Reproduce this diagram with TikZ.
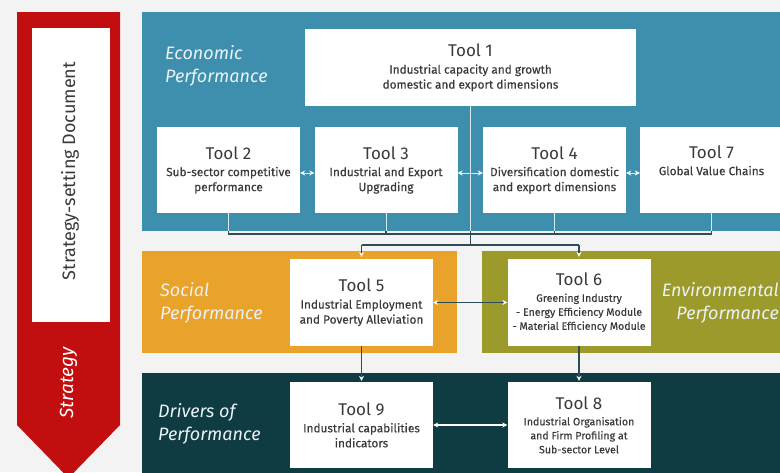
\documentclass[tikz,border=0pt]{standalone}
\usepackage{fontspec}
\setmainfont{Fira Sans}
\newfontfamily\subfont[FakeBold=0.3]{Fira Sans}
\usepackage{tikz}
\usetikzlibrary{arrows.meta, positioning}
\tikzset{>=stealth}
\definecolor{bggray}{HTML}{F3F3F3}
\definecolor{stratred}{HTML}{C20E0E}
\definecolor{econblue}{HTML}{3E8FAE}
\definecolor{socorange}{HTML}{E9A22A}
\definecolor{envolive}{HTML}{9B9A2B}
\definecolor{drvteal}{HTML}{0F3B42}
\definecolor{linkdark}{HTML}{2F4B55}
\definecolor{linklight}{HTML}{D6EBF2}
\definecolor{tooltxt}{HTML}{3A3A3A}
\definecolor{perftxt}{HTML}{EAF2F4}
\tikzset{
  panel/.style={rectangle, anchor=north west, inner sep=0pt},
  toolbox/.style={rectangle, fill=white, text=tooltxt, align=center, inner sep=0pt,
    minimum width=143pt, minimum height=86pt, font=\subfont\fontsize{11.8}{15}\selectfont},
  smalltext/.style={font=\subfont\fontsize{10.6}{14}\selectfont},
  perf/.style={align=left, anchor=west, inner sep=0pt, text=perftxt,
    font=\fontsize{18}{23}\selectfont\itshape},
  link/.style={draw=linkdark, line width=1.2pt},
  lightlink/.style={draw=linklight, line width=1pt},
  pale/.style={-{Stealth[length=5pt, width=5pt, color=white]}},
  twoway/.style={{Stealth[length=5pt, width=5pt, color=white]}-{Stealth[length=5pt, width=5pt, color=white]}},
}
\newcommand{\tooltitle}[1]{{\normalfont\fontsize{17}{20}\selectfont Tool #1}\\[2pt]}

\begin{document}
\begin{tikzpicture}[x=1pt, y=-1pt, >=stealth]
  \fill[bggray] (0,0) rectangle (780,472);
  \useasboundingbox (0,0) rectangle (780,472);

  % strategy arrow
  \fill[stratred] (17,12) -- (120,12) -- (120,425) -- (68.5,478) -- (17,425) -- cycle;
  \node[fill=white, inner sep=0pt, minimum width=78pt, minimum height=294pt] (doc) at (71,175) {};
  \node[rotate=90, text=tooltxt, font=\fontsize{18}{20}\selectfont] (doclbl) at (70,171) {Strategy-setting Document};
  \node[rotate=90, text=white, font=\fontsize{19}{22}\selectfont\itshape] (strat) at (68.5,383) {Strategy};

  % panels
  \node[panel, fill=econblue, minimum width=650pt, minimum height=219pt] (econ) at (142,12) {};
  \node[panel, fill=socorange, minimum width=315pt, minimum height=102pt] (social) at (142,251) {};
  \node[panel, fill=envolive, minimum width=310pt, minimum height=102pt] (env) at (482,251) {};
  \node[panel, fill=drvteal, minimum width=650pt, minimum height=110pt] (drivers) at (142,373) {};

  \node[perf] (econlbl) at (165,66) {Economic\\Performance};
  \node[perf] (soclbl) at (160,302.5) {Social\\Performance};
  \node[perf, align=right, anchor=east] (envlbl) at (779,302.5) {Environmental\\Performance};
  \node[perf] (drvlbl) at (158,423.5) {Drivers of\\Performance};

  % tools
  \node[toolbox, minimum width=331pt, minimum height=77pt] (T1) at (470.5,67.5)
    {\tooltitle{1}Industrial capacity and growth\\domestic and export dimensions};
  \node[toolbox] (T2) at (228.5,170) {\tooltitle{2}Sub-sector competitive\\performance};
  \node[toolbox] (T3) at (386,170) {\tooltitle{3}Industrial and Export\\Upgrading};
  \node[toolbox] (T4) at (554.5,170) {\tooltitle{4}Diversification domestic\\and export dimensions};
  \node[toolbox] (T7) at (711.5,170) {\tooltitle{7}Global Value Chains\\\strut};
  \node[toolbox, minimum height=87pt] (T5) at (361.5,302.5) {\tooltitle{5}Industrial Employment\\and Poverty Alleviation};
  \node[toolbox, minimum height=87pt, smalltext] (T6) at (579,302.5)
    {\tooltitle{6}Greening Industry\\- Energy Efficiency Module\\- Material Efficiency Module};
  \node[toolbox] (T9) at (361.5,425) {\tooltitle{9}Industrial capabilities\\indicators};
  \node[toolbox, smalltext] (T8) at (579,425)
    {\tooltitle{8}Industrial Organisation\\and Firm Profiling at\\Sub-sector Level};

  % links in the economic panel
  \draw[lightlink, twoway] ([yshift=-3pt]T2.east) -- ([yshift=-3pt]T3.west);
  \draw[lightlink, twoway] ([yshift=-3pt]T3.east) -- ([yshift=-3pt]T4.west);
  \draw[lightlink, twoway] ([yshift=-3pt]T4.east) -- ([yshift=-3pt]T7.west);
  \coordinate (brk) at (0,234);
  \coordinate (hub) at (0,245);
  \foreach \t in {T1,T2,T3,T4,T7}
    \draw[lightlink] (\t.south) -- (\t.south |- econ.south);
  \draw[link] (T2.south |- econ.south) -- (T2.south |- brk) -- (T7.south |- brk) -- (T7.south |- econ.south);
  \draw[link] (T3.south |- econ.south) -- (T3.south |- brk);
  \draw[link] (T4.south |- econ.south) -- (T4.south |- brk);
  \draw[link] (T1.south |- econ.south) -- (T1.south |- hub);
  \draw[link] (T5.north |- hub) -- (T6.north |- hub);
  \draw[link, pale] (T5.north |- hub) -- ([yshift=2pt]T5.north);
  \draw[link, pale] (T6.north |- hub) -- ([yshift=2pt]T6.north);

  % lower links
  \draw[link, twoway] (T5.east) -- (T6.west);
  \draw[link, pale] (T5.south) -- ([yshift=1pt]T9.north);
  \draw[link, pale] (T6.south) -- ([yshift=1pt]T8.north);
  \draw[draw=white, line width=1.2pt, twoway] (T9.east) -- (T8.west);
\end{tikzpicture}
\end{document}
